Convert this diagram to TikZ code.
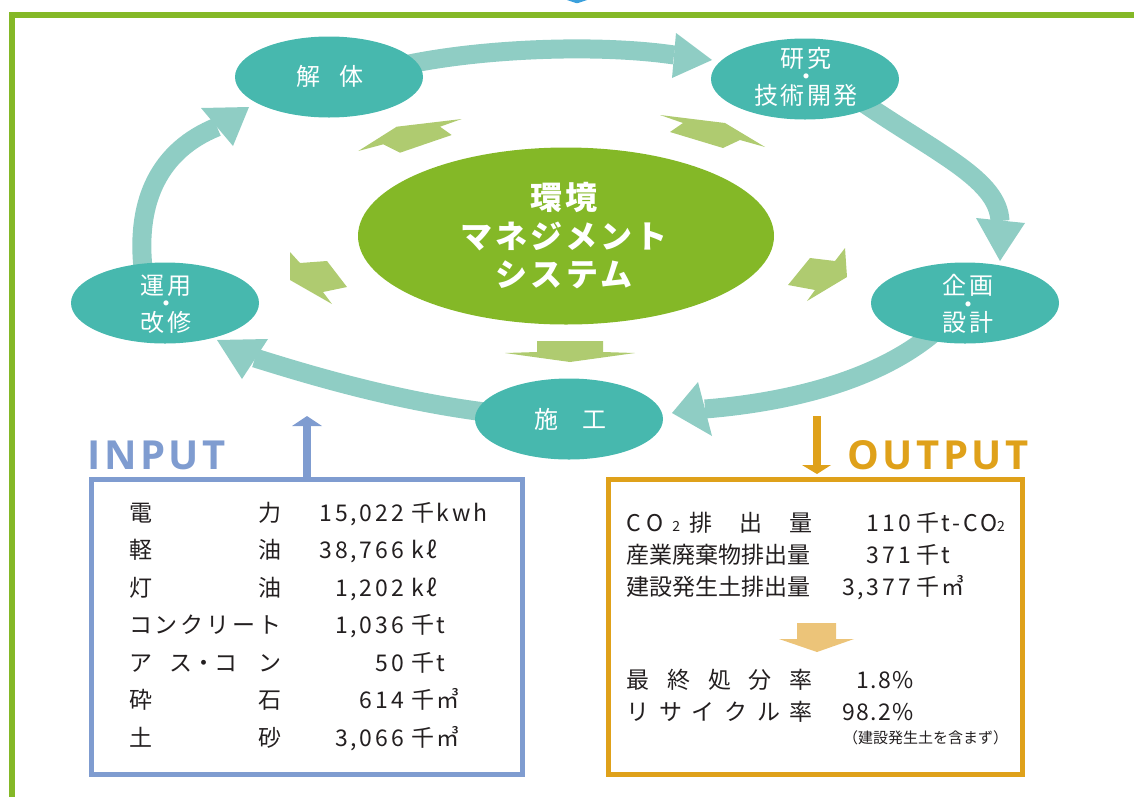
\documentclass[tikz,border=0pt]{standalone}
\usepackage{fontspec}
\usetikzlibrary{shapes.geometric,calc}
\setmainfont{Noto Sans CJK JP}
\newfontfamily\jp{Noto Sans CJK JP}
\newfontfamily\jpsp[LetterSpace=10]{Noto Sans CJK JP}
\newfontfamily\jpnum[LetterSpace=12]{Noto Sans CJK JP}
\newfontfamily\jpnumb[LetterSpace=6]{Noto Sans CJK JP}
\newfontfamily\iofont[LetterSpace=9]{Open Sans}
\definecolor{grnC}{HTML}{84B827}
\definecolor{tealC}{HTML}{47B8AE}
\definecolor{shaftC}{HTML}{8FCDC4}
\definecolor{garrC}{HTML}{AFCB70}
\definecolor{blueC}{HTML}{7F9CD0}
\definecolor{orgC}{HTML}{DFA11A}
\definecolor{lorgC}{HTML}{ECC479}
\definecolor{txtC}{HTML}{231F20}
\definecolor{topC}{HTML}{3BA0DC}
\pgfdeclarelayer{bg}
\pgfsetlayers{bg,main}
\tikzset{
  cycnode/.style={ellipse, fill=tealC, minimum width=188pt, minimum height=81pt, inner sep=0pt},
  cyctext/.style={text=white, inner sep=0pt, align=center, font={\jpsp\fontsize{24}{18.5}\selectfont\lineskiplimit=-100pt}},
  envtext/.style={text=white, inner sep=0pt, align=center, font={\jpsp\bfseries\fontsize{32}{38.5}\selectfont\lineskiplimit=-100pt}},
  shaft/.style={draw=shaftC, line width=19pt},
  shafthead/.style={fill=shaftC},
  greenarrow/.style={fill=garrC},
  lbl/.style={anchor=base west, inner sep=0pt, text=txtC, font=\jp\fontsize{23}{23}\selectfont},
  numv/.style={anchor=base east, inner sep=0pt, text=txtC, font=\jpnum\fontsize{23}{23}\selectfont},
  pctv/.style={anchor=base east, inner sep=0pt, text=txtC, font=\jpnumb\fontsize{23}{23}\selectfont},
  unitv/.style={anchor=base west, inner sep=0pt, text=txtC, font=\jpnum\fontsize{23}{23}\selectfont},
  iolabel/.style={anchor=base west, inner sep=0pt, font=\iofont\bfseries\fontsize{40}{40}\selectfont},
  databox/.style={line width=5pt, anchor=north west, inner sep=0pt, outer sep=0pt},
}
\newcommand{\smalltwo}{{\fontsize{14}{14}\selectfont 2}}
\begin{document}
\begin{tikzpicture}[x=1pt,y=-1pt]
\useasboundingbox (0,0) rectangle (1134,796);
% cut-off blue tip at the top
\fill[topC] (567,0) -- (587,0) -- (578,3) -- (576,3) -- cycle;
% frame
\draw[grnC, line width=5.5pt] (12,800) -- (12,14.8) -- (1140,14.8);

% cycle nodes
\node[cycnode] (kaitai) at (329,77) {};
\node[cycnode] (kenkyu) at (805,79) {};
\node[cycnode] (kikaku) at (965,303) {};
\node[cycnode] (seko) at (569,419) {};
\node[cycnode] (unyo) at (165,303) {};
\node[ellipse, fill=grnC, minimum width=416pt, minimum height=177pt, inner sep=0pt] (env) at (566,236) {};

\node[cyctext] (kaitaiT) at (330,76) {解\hspace{19pt}体};
\node[cyctext] (kenkyuT) at (806,76.5) {研究\\・\\技術開発};
\node[cyctext] (kikakuT) at (968,304) {企画\\・\\設計};
\node[cyctext] (unyoT) at (166,304) {運用\\・\\改修};
\node[cyctext] (sekoT) at (570,419) {施\hspace{24pt}工};
\node[envtext] (envT) at (564,236) {環境\\マネジメント\\システム};

% cycle arrows
\begin{pgfonlayer}{bg}
\coordinate (h1) at (674,55);
\coordinate (h2) at (1000,221);
\coordinate (h3) at (705,409);
\coordinate (h4) at (255,358);
\coordinate (h5) at (217,127);
\draw[shaft] ([shift={(71,-11)}]kaitai.center) .. controls (480,48) and (600,44) .. (h1);
\fill[shafthead] (676,33) -- (712,60) -- (672,78) -- cycle;
\draw[shaft] ([shift={(57,23)}]kenkyu.center) .. controls (940,155) and (998,180) .. (h2);
\fill[shafthead] (976,218) -- (1025,223) -- (1000,261) -- cycle;
\draw[shaft] ([shift={(-28,27)}]kikaku.center) .. controls (880,380) and (790,402) .. (h3);
\fill[shafthead] (698,382) -- (712,436) -- (672,413) -- cycle;
\draw[shaft] ([shift={(-84,-7)}]seko.center) .. controls (390,400) and (300,372) .. (h4);
\fill[shafthead] (268,339) -- (242,379) -- (217,340) -- cycle;
\draw[shaft] ([shift={(-22,-35)}]unyo.center) .. controls (136,200) and (160,150) .. (h5);
\fill[shafthead] (201,108) -- (249,107) -- (233,146) -- cycle;
\end{pgfonlayer}

% green arrows from the centre
\fill[greenarrow] (461.7,119) -- (396.7,126.7) -- (358.3,151) -- (383.3,144.3) -- (400,152.7) -- (451.7,135) -- (440,126.7) -- cycle;
\fill[greenarrow] (660,115) -- (725,123) -- (765,147) -- (740,140) -- (723,148) -- (670,132) -- (683,123) -- cycle;
\fill[greenarrow] (290,252) -- (300,263) -- (327,261) -- (347,287) -- (323,292) -- (332,304) -- (290,280) -- cycle;
\fill[greenarrow] (845,248) -- (847,277) -- (807,301) -- (815,290) -- (788,285) -- (810,258) -- (835,261) -- cycle;
\fill[greenarrow] (537,341) -- (603,341) -- (603,352) -- (635,353) -- (570,362) -- (505,353) -- (537,352) -- cycle;

% INPUT
\node[databox, draw=blueC, minimum width=430.5pt, minimum height=294.5pt] (inbox) at (91.5,479.5) {};
\node[iolabel, text=blueC] (inlbl) at (87,469) {INPUT};
\coordinate (inTip) at (307,416);
\draw[blueC, line width=8pt] (inbox.north -| inTip) -- (307,426);
\fill[blueC] (292,426) -- (inTip) -- (322,426) -- cycle;

\node[lbl] (i1l) at (129,521) {\makebox[152pt][s]{電\hfill 力}};
\node[lbl] (i2l) at (129,558.5) {\makebox[152pt][s]{軽\hfill 油}};
\node[lbl] (i3l) at (129,596) {\makebox[152pt][s]{灯\hfill 油}};
\node[lbl] (i4l) at (129,633.5) {\makebox[152pt][s]{コ\hfill ン\hfill ク\hfill リ\hfill ー\hfill ト}};
\node[lbl] (i5l) at (129,671) {\makebox[152pt][s]{ア\hspace{17pt}ス\hspace{0pt}・\hspace{-1pt}コ\hfill ン}};
\node[lbl] (i6l) at (129,708.5) {\makebox[152pt][s]{砕\hfill 石}};
\node[lbl] (i7l) at (129,746) {\makebox[152pt][s]{土\hfill 砂}};

\node[numv] (i1n) at (404,521) {15,022};
\node[numv] (i2n) at (404,558.5) {38,766};
\node[numv] (i3n) at (404,596) {1,202};
\node[numv] (i4n) at (404,633.5) {1,036};
\node[numv] (i5n) at (404,671) {50};
\node[numv] (i6n) at (404,708.5) {614};
\node[numv] (i7n) at (404,746) {3,066};

\node[unitv] (i1u) at (411,521) {千kwh};
\node[unitv] (i2u) at (411,558.5) {kℓ};
\node[unitv] (i3u) at (411,596) {kℓ};
\node[unitv] (i4u) at (411,633.5) {千t};
\node[unitv] (i5u) at (411,671) {千t};
\node[unitv] (i6u) at (411,708.5) {千㎥};
\node[unitv] (i7u) at (411,746) {千㎥};

% OUTPUT
\node[databox, draw=orgC, minimum width=413.5pt, minimum height=294.5pt] (outbox) at (608.5,479.5) {};
\node[iolabel, text=orgC] (outlbl) at (847,469) {OUTPUT};
\coordinate (outTop) at (817,416);
\draw[orgC, line width=8pt] (outTop) -- (817,466);
\fill[orgC] (802,465) -- (831,465) -- (817,474) -- cycle;

\node[lbl] (o1l) at (626.5,531) {\makebox[186pt][s]{C\hspace{5pt}O\hspace{9pt}\smalltwo\hspace{9pt}排\hfill 出\hfill 量}};
\node[lbl] (o2l) at (626.5,563) {\makebox[186pt][s]{産業廃棄物排出量}};
\node[lbl] (o3l) at (626.5,595) {\makebox[186pt][s]{建設発生土排出量}};
\node[numv] (o1n) at (911,531) {110};
\node[numv] (o2n) at (911,563) {371};
\node[numv] (o3n) at (911,595) {3,377};
\node[unitv] (o1u) at (916,531) {千t-CO\smalltwo};
\node[unitv] (o2u) at (916,563) {千t};
\node[unitv] (o3u) at (916,595) {千㎥};

\fill[lorgC] (797,623) -- (836,623) -- (836,639) -- (854,639) -- (817,652) -- (779,639) -- (797,639) -- cycle;

\node[lbl] (o4l) at (626.5,688) {\makebox[186pt][s]{最\hfill 終\hfill 処\hfill 分\hfill 率}};
\node[lbl] (o5l) at (626.5,720.5) {\makebox[186pt][s]{リ\hfill サ\hfill イ\hfill ク\hfill ル\hfill 率}};
\node[pctv] (o4n) at (914,688) {1.8\%};
\node[pctv] (o5n) at (914,720.5) {98.2\%};
\node[anchor=base west, inner sep=0pt, text=txtC, font=\jp\fontsize{15}{15}\selectfont] (note) at (843,743) {（建設発生土を含まず）};
\end{tikzpicture}
\end{document}
